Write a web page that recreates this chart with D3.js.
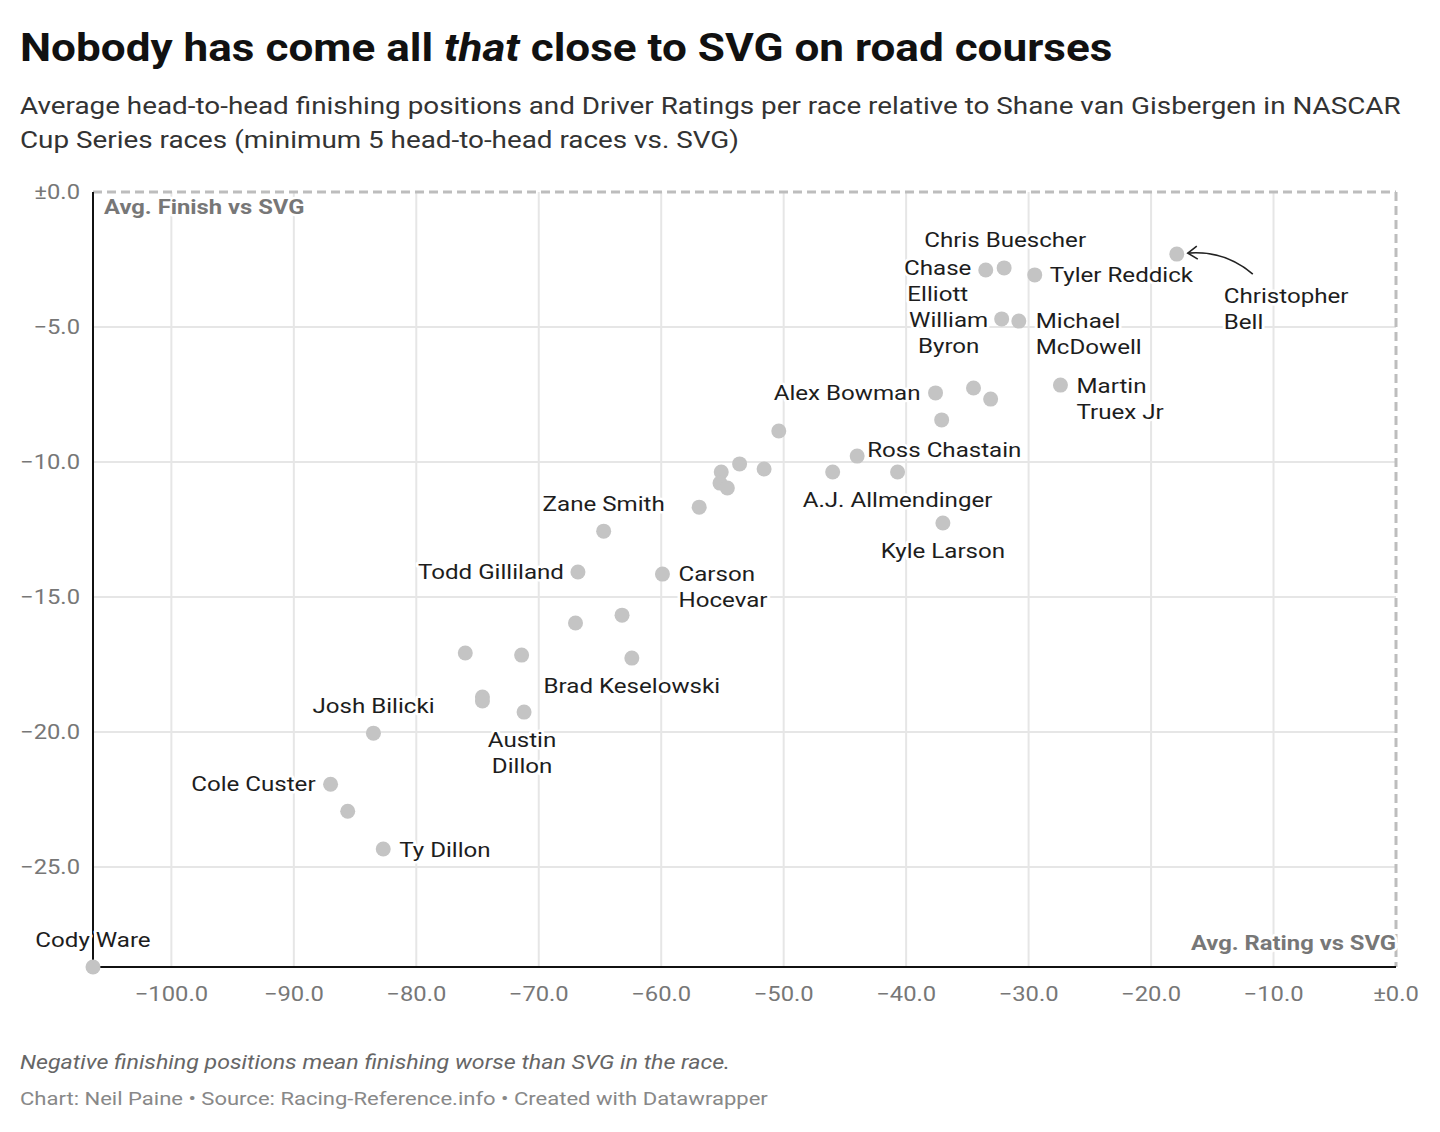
<!DOCTYPE html>
<html>
<head>
<meta charset="utf-8">
<script src="https://cdn.jsdelivr.net/npm/d3@7"></script>
<style>
  body { margin: 0; background: #fff; font-family: Roboto, sans-serif; }
  .grid line { stroke: #e6e6e6; stroke-width: 2; }
  .tick-label { fill: #777; font-size: 20.5px; }
  .dot { fill: #c4c4c4; }
  .lbl { fill: #1d1d1d; font-size: 20.8px; paint-order: stroke; stroke: #fff; stroke-width: 5px; stroke-linejoin: round; }
  .axis-title { fill: #777; font-size: 20.5px; font-weight: 700; paint-order: stroke; stroke: #fff; stroke-width: 5px; stroke-linejoin: round; }
</style>
</head>
<body>
<div id="chart"></div>
<script>
// drivers, avg rating vs SVG, avg finish vs SVG
var drivers = [
  'Christopher Bell', 'Chris Buescher', 'Chase Elliott', 'Tyler Reddick', 'William Byron',
  'Michael McDowell', 'Martin Truex Jr', 'Alex Bowman', '', '',
  '', '', 'Ross Chastain', 'A.J. Allmendinger', '',
  'Kyle Larson', '', '', '', '',
  '', '', 'Zane Smith', 'Todd Gilliland', 'Carson Hocevar',
  '', '', 'Brad Keselowski', '', '',
  '', '', 'Austin Dillon', 'Josh Bilicki', 'Cole Custer',
  '', 'Ty Dillon', 'Cody Ware'
];
var ratings = [
  -17.9, -32.0, -33.5, -29.5, -32.2,
  -30.8, -27.4, -37.6, -34.5, -33.1,
  -37.1, -50.4, -44.0, -40.7, -46.0,
  -37.0, -51.6, -53.6, -55.1, -55.2,
  -54.6, -56.9, -64.7, -66.8, -59.9,
  -63.2, -67.0, -62.4, -76.0, -71.4,
  -74.6, -74.6, -71.2, -83.5, -87.0,
  -85.6, -82.7, -106.4
];
var finishes = [
  -2.30, -2.81, -2.89, -3.07, -4.70,
  -4.78, -7.15, -7.44, -7.26, -7.67,
  -8.44, -8.85, -9.78, -10.37, -10.37,
  -12.26, -10.26, -10.07, -10.37, -10.78,
  -10.96, -11.67, -12.56, -14.07, -14.15,
  -15.67, -15.96, -17.26, -17.07, -17.15,
  -18.70, -18.85, -19.26, -20.04, -21.93,
  -22.93, -24.33, -28.70
];
var xTicks = [-100, -90, -80, -70, -60, -50, -40, -30, -20, -10, 0];
var yTicks = [0, -5, -10, -15, -20, -25];

// where each label sits relative to its dot
var placement = {
  'Christopher Bell': { dx: 47, dy: 42, anchor: 'start' },
  'Chris Buescher': { dx: 1, dy: -28, anchor: 'middle' },
  'Chase Elliott': { dx: -48, dy: -2, anchor: 'middle' },
  'Tyler Reddick': { dx: 15, dy: 0, anchor: 'start' },
  'William Byron': { dx: -53, dy: 1, anchor: 'middle' },
  'Michael McDowell': { dx: 17, dy: 0, anchor: 'start' },
  'Martin Truex Jr': { dx: 16, dy: 1, anchor: 'start' },
  'Alex Bowman': { dx: -15, dy: 0, anchor: 'end' },
  'Ross Chastain': { dx: 10, dy: -6, anchor: 'start' },
  'A.J. Allmendinger': { dx: 0, dy: 28, anchor: 'middle' },
  'Kyle Larson': { dx: 0, dy: 28, anchor: 'middle' },
  'Zane Smith': { dx: 0, dy: -27, anchor: 'middle' },
  'Todd Gilliland': { dx: -14, dy: 0, anchor: 'end' },
  'Carson Hocevar': { dx: 16, dy: 0, anchor: 'start' },
  'Brad Keselowski': { dx: 0, dy: 28, anchor: 'middle' },
  'Josh Bilicki': { dx: 0, dy: -27, anchor: 'middle' },
  'Austin Dillon': { dx: -2, dy: 28, anchor: 'middle' },
  'Cole Custer': { dx: -15, dy: 0, anchor: 'end' },
  'Ty Dillon': { dx: 16, dy: 1, anchor: 'start' },
  'Cody Ware': { dx: 0, dy: -27, anchor: 'middle' }
};
var twoLine = { 'Christopher Bell': 1, 'Chase Elliott': 1, 'William Byron': 1,
  'Michael McDowell': 1, 'Martin Truex Jr': 1, 'Carson Hocevar': 1, 'Austin Dillon': 1 };

var W = 1440, H = 1132;
var K = 1.16; // the reference type is set a little wide
var svg = d3.select('#chart').append('svg')
    .attr('width', W)
    .attr('height', H);

var x = d3.scaleLinear().domain([-106.4, 0]).range([93, 1396]);
var y = d3.scaleLinear().domain([-28.7, 0]).range([967, 192]);

function fmt(v) {
    if (v === 0) return '\u00b10.0';
    return '\u2212' + Math.abs(v).toFixed(1);
}

// text placed at (px, py) and stretched horizontally around that point
function wide(parent, px, py) {
    return parent.append('text')
        .attr('transform', 'translate(' + px + ',' + py + ') scale(' + K + ',1)');
}

// header
wide(svg, 20, 61)
    .style('font-size', '38px').style('font-weight', 700).style('fill', '#111')
    .html('Nobody has come all <tspan font-style="italic">that</tspan> close to SVG on road courses');

var sub = wide(svg, 20, 114)
    .style('font-size', '24px').style('fill', '#333');
sub.append('tspan').attr('x', 0).attr('y', 0)
    .text('Average head-to-head finishing positions and Driver Ratings per race relative to Shane van Gisbergen in NASCAR');
sub.append('tspan').attr('x', 0).attr('y', 34)
    .text('Cup Series races (minimum 5 head-to-head races vs. SVG)');

// grid
var grid = svg.append('g').attr('class', 'grid');
grid.selectAll('.vx').data(xTicks.filter(d => d !== 0)).enter()
    .append('line')
    .attr('x1', d => x(d)).attr('x2', d => x(d))
    .attr('y1', y(0)).attr('y2', y.range()[0]);
grid.selectAll('.hy').data(yTicks.filter(d => d !== 0)).enter()
    .append('line')
    .attr('x1', x.range()[0]).attr('x2', x.range()[1])
    .attr('y1', d => y(d)).attr('y2', d => y(d));

// dashed zero lines
svg.append('line')
    .attr('x1', x.range()[0]).attr('x2', x(0))
    .attr('y1', y(0)).attr('y2', y(0))
    .attr('stroke', '#bdbdbd').attr('stroke-width', 3).attr('stroke-dasharray', '9,5');
svg.append('line')
    .attr('x1', x(0)).attr('x2', x(0))
    .attr('y1', y(0)).attr('y2', y.range()[0])
    .attr('stroke', '#bdbdbd').attr('stroke-width', 3).attr('stroke-dasharray', '9,5');

// axis lines
svg.append('line')
    .attr('x1', x.range()[0]).attr('x2', x.range()[0])
    .attr('y1', y(0)).attr('y2', y.range()[0])
    .attr('stroke', '#111').attr('stroke-width', 2);
svg.append('line')
    .attr('x1', x.range()[0]).attr('x2', x(0))
    .attr('y1', y.range()[0]).attr('y2', y.range()[0])
    .attr('stroke', '#111').attr('stroke-width', 2);

// tick labels
xTicks.forEach(d => {
    wide(svg, x(d), 1001).attr('class', 'tick-label')
        .attr('text-anchor', 'middle').text(fmt(d));
});
yTicks.forEach(d => {
    wide(svg, 80, y(d) + 7).attr('class', 'tick-label')
        .attr('text-anchor', 'end').text(fmt(d));
});

// axis titles
wide(svg, 104, 214).attr('class', 'axis-title')
    .text('Avg. Finish vs SVG');
wide(svg, 1396, 950).attr('class', 'axis-title')
    .attr('text-anchor', 'end')
    .text('Avg. Rating vs SVG');

// dots
var data = drivers.map((d, i) => ({ name: d, rating: ratings[i], finish: finishes[i] }));

svg.selectAll('.dot').data(data).enter()
    .append('circle')
    .attr('class', 'dot')
    .attr('cx', d => x(d.rating))
    .attr('cy', d => y(d.finish))
    .attr('r', 7.5);

// arrow for Christopher Bell
var bell = data.find(d => d.name === 'Christopher Bell');
var bx = x(bell.rating), by = y(bell.finish);
svg.append('path')
    .attr('d', 'M' + (bx + 76) + ',' + (by + 20) + ' Q' + (bx + 48) + ',' + (by - 4) + ' ' + (bx + 11) + ',' + (by - 1))
    .attr('fill', 'none').attr('stroke', '#222').attr('stroke-width', 1.6);
svg.append('path')
    .attr('d', 'M' + (bx + 20) + ',' + (by - 8) + ' L' + (bx + 11) + ',' + (by - 1) + ' L' + (bx + 21) + ',' + (by + 5))
    .attr('fill', 'none').attr('stroke', '#222').attr('stroke-width', 1.6);

// labels
data.filter(d => d.name !== '').forEach(d => {
    var p = placement[d.name];
    var t = wide(svg, x(d.rating) + p.dx, y(d.finish) + p.dy + 7)
        .attr('class', 'lbl')
        .attr('text-anchor', p.anchor);
    if (twoLine[d.name]) {
        var parts = d.name.split(' ');
        t.append('tspan').attr('x', 0).attr('y', 0).text(parts[0]);
        t.append('tspan').attr('x', 0).attr('y', 26).text(parts.slice(1).join(' '));
    } else {
        t.text(d.name);
    }
});

// footer
wide(svg, 20, 1069)
    .style('font-size', '20px').style('font-style', 'italic').style('fill', '#666')
    .text('Negative finishing positions mean finishing worse than SVG in the race.');
wide(svg, 20, 1105)
    .style('font-size', '19px').style('fill', '#888')
    .text('Chart: Neil Paine \u2022 Source: Racing-Reference.info \u2022 Created with Datawrapper');
</script>
</body>
</html>
